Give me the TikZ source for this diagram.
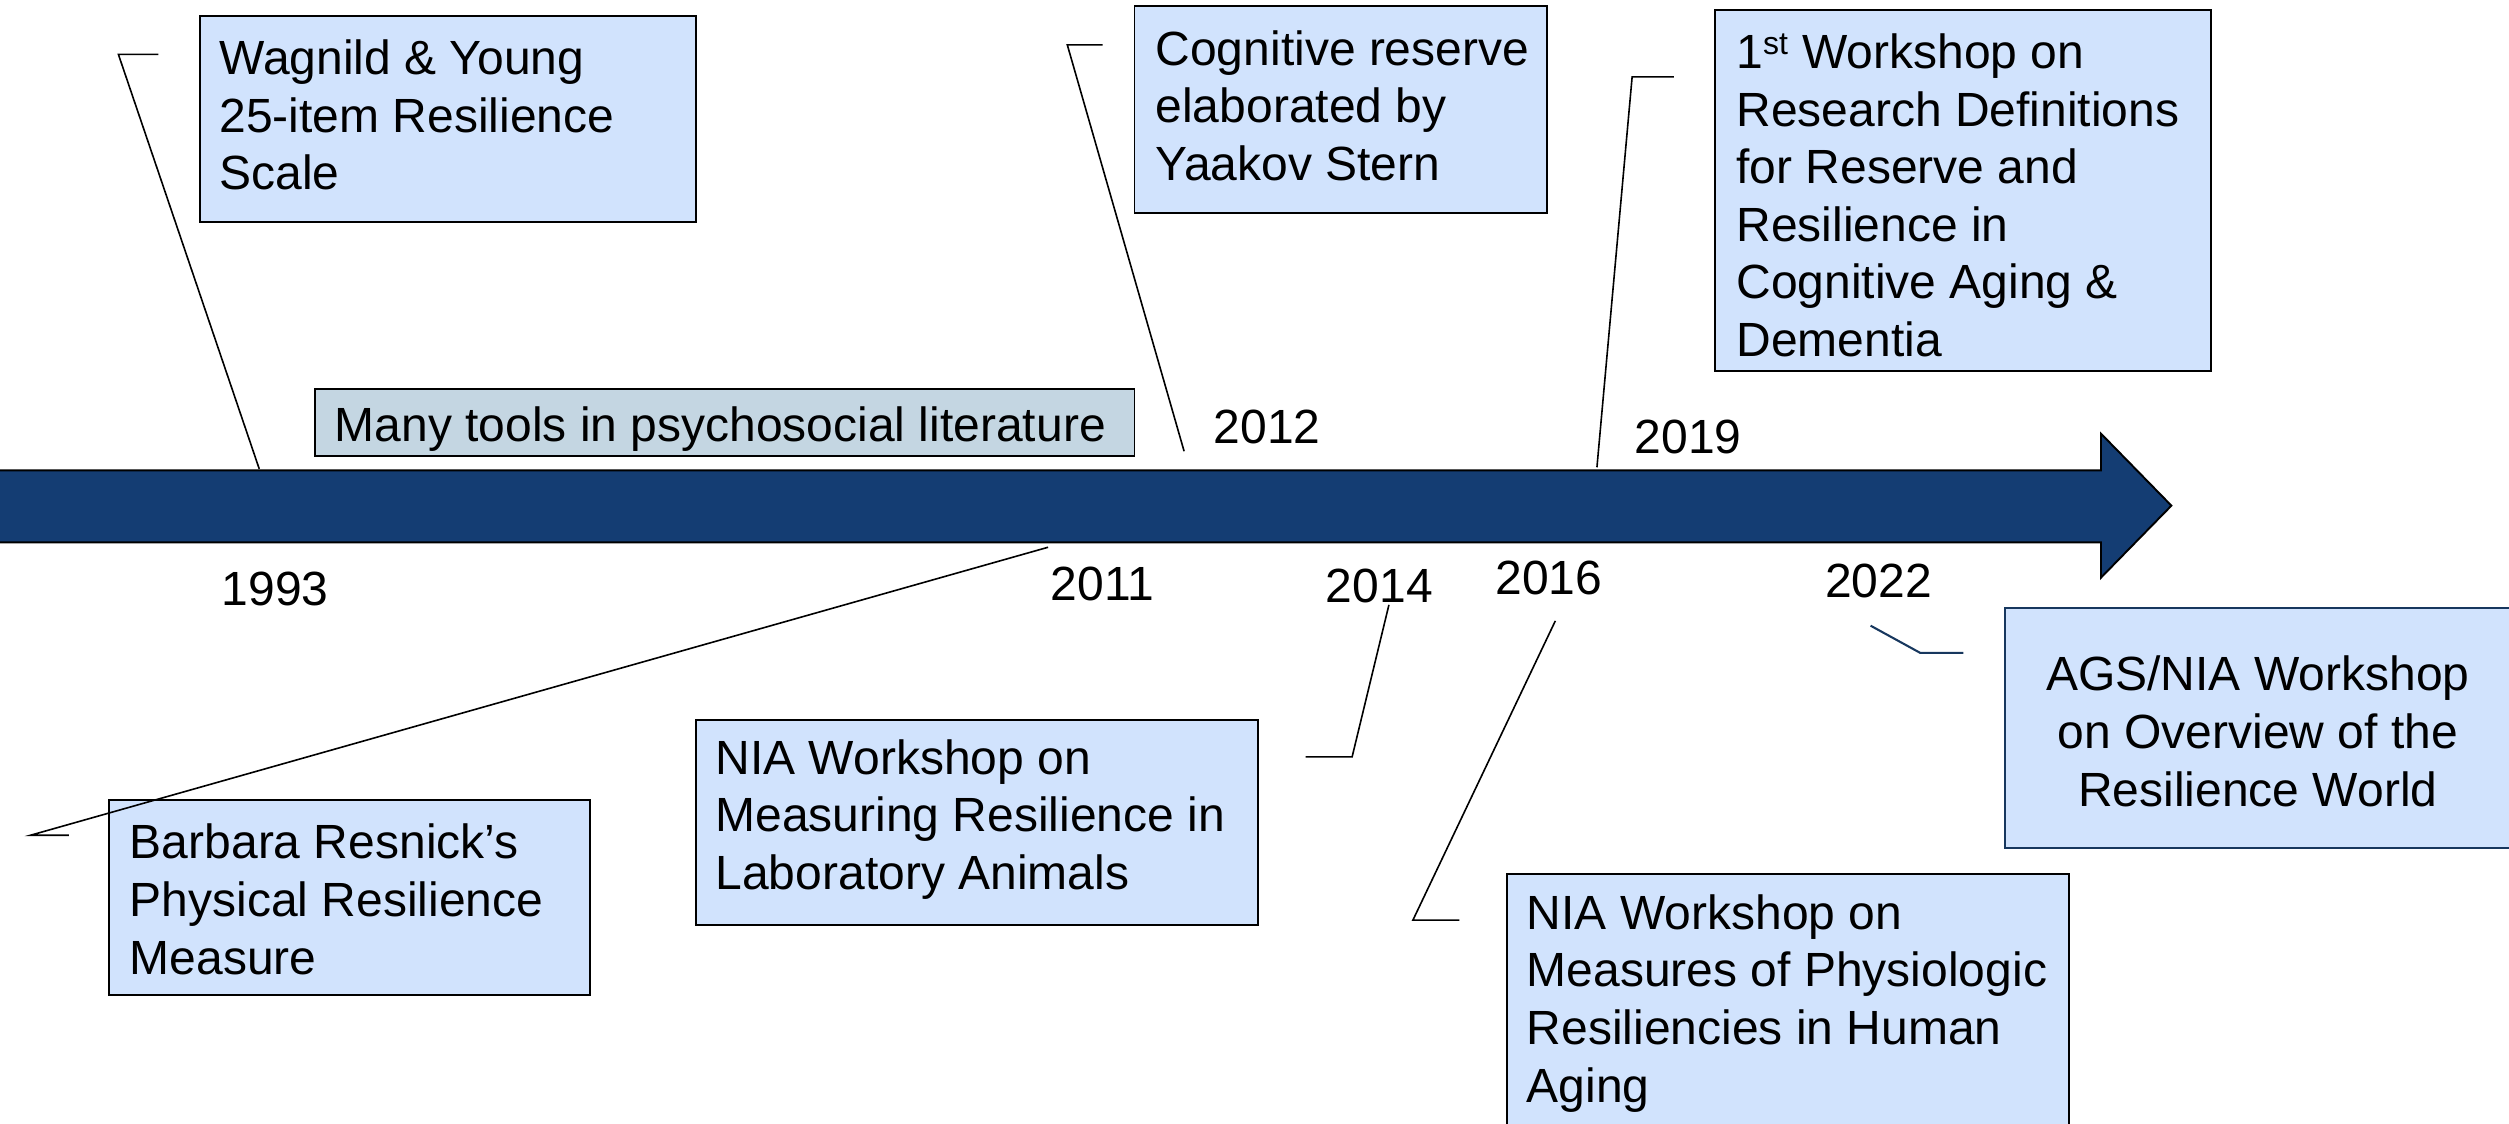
\documentclass[tikz,border=0pt]{standalone}
\usepackage{fontspec}
\setmainfont{Liberation Sans}
\begin{document}
\begin{tikzpicture}[x=1pt,y=-1pt,
  evbox/.style={draw=black, line width=1.2pt, fill=boxblue},
  evtext/.style={anchor=west, inner sep=0pt, align=left, font=\fontsize{30}{36}\selectfont},
  yeartext/.style={inner sep=0pt, font=\fontsize{30}{36}\selectfont},
  leader/.style={draw=black, line width=1pt},
]
\definecolor{boxblue}{RGB}{209,227,253}
\definecolor{toolgrey}{RGB}{196,214,226}
\definecolor{navy}{RGB}{20,61,115}
\definecolor{navyline}{RGB}{23,55,94}
\useasboundingbox (0,0) rectangle (1568,702);

% timeline arrow
\draw[fill=navy, draw=black, line width=1.2pt]
  (-5,294) -- (1313,294) -- (1313,271) -- (1357,316) -- (1313,361) -- (1313,339) -- (-5,339) -- cycle;

% boxes above the timeline
\draw[evbox] (125,10) rectangle (435,139);
\node[evtext] (wagnild) at (137,72) {Wagnild \& Young\\25-item Resilience\\Scale};
\coordinate (wagnildend) at (99,34);

\draw[draw=black, line width=1.2pt, fill=toolgrey] (197,243) rectangle (709,285);
\node[evtext] (tools) at (209,268) {Many tools in psychosocial literature};

\draw[evbox] (709,4) rectangle (967,133);
\node[evtext] (stern) at (722,66) {Cognitive reserve\\elaborated by\\Yaakov Stern};
\coordinate (sternend) at (689,28);

\draw[evbox] (1072,6) rectangle (1382,232);
\node[evtext] (first) at (1085,122) {1\textsuperscript{\fontsize{20}{20}\selectfont st} Workshop on\\Research Definitions\\for Reserve and\\Resilience in\\Cognitive Aging \&\\Dementia};
\coordinate (firstend) at (1046,48);

% boxes below the timeline
\draw[evbox] (68,500) rectangle (369,622);
\node[evtext] (resnick) at (81,562) {Barbara Resnick’s\\Physical Resilience\\Measure};
\coordinate (resnickend) at (43,522);

\draw[evbox] (435,450) rectangle (786,578);
\node[evtext] (lab) at (447,512) {NIA Workshop on\\Measuring Resilience in\\Laboratory Animals};
\coordinate (labend) at (816,473);

\draw[evbox] (942,546) rectangle (1293,712);
\node[evtext] (human) at (954,627) {NIA Workshop on\\Measures of Physiologic\\Resiliencies in Human\\Aging};
\coordinate (humanend) at (912,575);

\draw[fill=boxblue, draw=navyline, line width=1.2pt] (1253,380) rectangle (1570,530);
\node[yeartext, align=center] (ags) at (1411,457) {AGS/NIA Workshop\\on Overview of the\\Resilience World};
\coordinate (agsend) at (1227,408);

% year labels
\node[yeartext] (y1993) at (172,368) {1993};
\node[yeartext] (y2011) at (689,365) {2011};
\node[yeartext] (y2012) at (792,267) {2012};
\node[yeartext] (y2014) at (862,366) {2014};
\node[yeartext] (y2016) at (968,361) {2016};
\node[yeartext] (y2019) at (1055,273) {2019};
\node[yeartext] (y2022) at (1174,363) {2022};

% leader lines from the timeline to the boxes
\coordinate (p1993) at (162,293);
\coordinate (p2011) at (655,342);
\coordinate (p2012) at (740,282);
\coordinate (p2014) at (868,378);
\coordinate (p2016) at (972,388);
\coordinate (p2019) at (998,292);
\coordinate (p2022) at (1169,391);

\draw[leader] (p1993) -- (74,34) -- (wagnildend);
\draw[leader] (p2012) -- (667,28) -- (sternend);
\draw[leader] (p2019) -- (1020,48) -- (firstend);
\draw[leader] (p2011) -- (19,522) -- (resnickend);
\draw[leader] (p2014) -- (845,473) -- (labend);
\draw[leader] (p2016) -- (883,575) -- (humanend);
\draw[leader, draw=navyline, line width=1.3pt] (p2022) -- (1200,408) -- (agsend);
\end{tikzpicture}
\end{document}
